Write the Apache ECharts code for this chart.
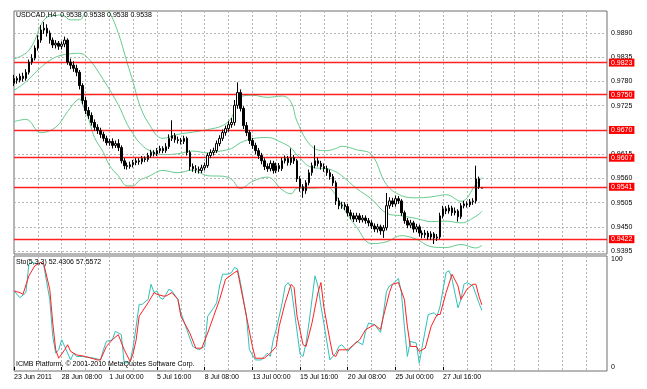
<!DOCTYPE html>
<html><head><meta charset="utf-8">
<script src="https://cdn.jsdelivr.net/npm/echarts@6/dist/echarts.min.js"></script>
<style>html,body{margin:0;padding:0;background:#fff}#c{width:647px;height:389px}</style>
</head><body><div id="c"></div><script>
const tickLabels = ['23 Jun 2011','28 Jun 08:00','1 Jul 00:00','5 Jul 16:00','8 Jul 08:00','13 Jul 00:00','15 Jul 16:00','20 Jul 08:00','25 Jul 00:00','27 Jul 16:00'];
const priceLevels = [0.9890,0.9835,0.9780,0.9725,0.9670,0.9615,0.9560,0.9505,0.9450,0.9395];
const redLevels = [0.9823,0.9750,0.9670,0.9607,0.9541,0.9422];
const stochLevels = [0,100];

const openP = [0.9776,0.9787,0.9783,0.9792,0.9787,0.9801,0.9824,0.9833,0.9856,0.9874,
0.9897,0.9901,0.9890,0.9874,0.9863,0.9867,0.9860,0.9865,0.9874,0.9824,
0.9817,0.9810,0.9801,0.9771,0.9737,0.9714,0.9703,0.9687,0.9676,0.9669,
0.9660,0.9651,0.9641,0.9644,0.9635,0.9639,0.9630,0.9600,0.9589,0.9587,
0.9591,0.9596,0.9600,0.9598,0.9605,0.9603,0.9612,0.9619,0.9616,0.9623,
0.9628,0.9623,0.9632,0.9651,0.9657,0.9648,0.9646,0.9644,0.9651,0.9619,
0.9587,0.9582,0.9580,0.9578,0.9584,0.9589,0.9612,0.9619,0.9623,0.9639,
0.9651,0.9664,0.9673,0.9682,0.9687,0.9726,0.9755,0.9719,0.9680,0.9664,
0.9646,0.9635,0.9623,0.9612,0.9600,0.9587,0.9582,0.9594,0.9578,0.9589,
0.9582,0.9600,0.9605,0.9596,0.9607,0.9600,0.9559,0.9541,0.9532,0.9550,
0.9573,0.9589,0.9600,0.9594,0.9587,0.9582,0.9573,0.9564,0.9550,0.9509,
0.9498,0.9500,0.9496,0.9482,0.9475,0.9468,0.9475,0.9466,0.9470,0.9464,
0.9459,0.9452,0.9445,0.9450,0.9441,0.9448,0.9498,0.9509,0.9502,0.9514,
0.9509,0.9482,0.9464,0.9454,0.9459,0.9445,0.9450,0.9436,0.9432,0.9436,
0.9427,0.9434,0.9425,0.9427,0.9475,0.9491,0.9486,0.9493,0.9482,0.9486,
0.9473,0.9498,0.9502,0.9500,0.9507,0.9509,0.9559,0.9538];
const closeP = [0.9787,0.9783,0.9792,0.9787,0.9801,0.9824,0.9833,0.9856,0.9874,0.9897,
0.9901,0.9890,0.9874,0.9863,0.9867,0.9860,0.9865,0.9874,0.9824,0.9817,
0.9810,0.9801,0.9771,0.9737,0.9714,0.9703,0.9687,0.9676,0.9669,0.9660,
0.9651,0.9641,0.9644,0.9635,0.9639,0.9630,0.9600,0.9589,0.9587,0.9591,
0.9596,0.9600,0.9598,0.9605,0.9603,0.9612,0.9619,0.9616,0.9623,0.9628,
0.9623,0.9632,0.9651,0.9657,0.9648,0.9646,0.9644,0.9651,0.9619,0.9587,
0.9582,0.9580,0.9578,0.9584,0.9589,0.9612,0.9619,0.9623,0.9639,0.9651,
0.9664,0.9673,0.9682,0.9687,0.9726,0.9755,0.9719,0.9680,0.9664,0.9646,
0.9635,0.9623,0.9612,0.9600,0.9587,0.9582,0.9594,0.9578,0.9589,0.9582,
0.9600,0.9605,0.9596,0.9607,0.9600,0.9559,0.9541,0.9532,0.9550,0.9573,
0.9589,0.9600,0.9594,0.9587,0.9582,0.9573,0.9564,0.9550,0.9509,0.9498,
0.9500,0.9496,0.9482,0.9475,0.9468,0.9475,0.9466,0.9470,0.9464,0.9459,
0.9452,0.9445,0.9450,0.9441,0.9448,0.9498,0.9509,0.9502,0.9514,0.9509,
0.9482,0.9464,0.9454,0.9459,0.9445,0.9450,0.9436,0.9432,0.9436,0.9427,
0.9434,0.9425,0.9427,0.9475,0.9491,0.9486,0.9493,0.9482,0.9486,0.9473,
0.9498,0.9502,0.9500,0.9507,0.9509,0.9559,0.9541,0.9538];
const highP = [0.9795,0.9792,0.9798,0.9800,0.9808,0.9830,0.9842,0.9862,0.9885,0.9908,
0.9915,0.9910,0.9896,0.9880,0.9874,0.9872,0.9871,0.9882,0.9878,0.9832,
0.9826,0.9818,0.9806,0.9776,0.9745,0.9722,0.9710,0.9694,0.9683,0.9675,
0.9666,0.9657,0.9650,0.9651,0.9646,0.9649,0.9635,0.9606,0.9596,0.9598,
0.9602,0.9606,0.9606,0.9611,0.9610,0.9618,0.9625,0.9624,0.9629,0.9634,
0.9633,0.9640,0.9660,0.9692,0.9663,0.9655,0.9652,0.9657,0.9655,0.9624,
0.9594,0.9590,0.9587,0.9591,0.9596,0.9618,0.9626,0.9630,0.9646,0.9658,
0.9671,0.9680,0.9690,0.9697,0.9738,0.9778,0.9762,0.9724,0.9688,0.9670,
0.9652,0.9641,0.9629,0.9618,0.9606,0.9594,0.9601,0.9600,0.9596,0.9595,
0.9607,0.9612,0.9611,0.9628,0.9613,0.9604,0.9565,0.9547,0.9556,0.9580,
0.9596,0.9635,0.9607,0.9600,0.9594,0.9589,0.9580,0.9570,0.9555,0.9516,
0.9507,0.9506,0.9502,0.9489,0.9482,0.9482,0.9481,0.9477,0.9476,0.9470,
0.9465,0.9458,0.9457,0.9455,0.9454,0.9527,0.9517,0.9516,0.9521,0.9520,
0.9513,0.9487,0.9470,0.9466,0.9464,0.9457,0.9455,0.9442,0.9443,0.9441,
0.9440,0.9438,0.9434,0.9482,0.9498,0.9497,0.9500,0.9498,0.9494,0.9490,
0.9504,0.9509,0.9508,0.9513,0.9515,0.9589,0.9564,0.9538];
const lowP = [0.9770,0.9775,0.9778,0.9780,0.9782,0.9796,0.9818,0.9828,0.9850,0.9868,
0.9888,0.9882,0.9866,0.9856,0.9855,0.9852,0.9853,0.9858,0.9818,0.9808,
0.9802,0.9792,0.9762,0.9728,0.9706,0.9695,0.9680,0.9668,0.9661,0.9652,
0.9644,0.9635,0.9634,0.9628,0.9629,0.9622,0.9594,0.9581,0.9580,0.9582,
0.9585,0.9590,0.9591,0.9592,0.9597,0.9598,0.9607,0.9610,0.9611,0.9617,
0.9617,0.9618,0.9627,0.9645,0.9641,0.9639,0.9637,0.9638,0.9612,0.9578,
0.9575,0.9572,0.9571,0.9572,0.9578,0.9584,0.9606,0.9612,0.9618,0.9633,
0.9645,0.9657,0.9666,0.9675,0.9680,0.9718,0.9712,0.9672,0.9656,0.9638,
0.9627,0.9615,0.9604,0.9592,0.9579,0.9575,0.9576,0.9571,0.9572,0.9575,
0.9577,0.9594,0.9589,0.9590,0.9593,0.9552,0.9530,0.9516,0.9525,0.9544,
0.9566,0.9583,0.9587,0.9580,0.9575,0.9566,0.9557,0.9543,0.9500,0.9490,
0.9491,0.9488,0.9474,0.9467,0.9461,0.9461,0.9459,0.9460,0.9457,0.9451,
0.9445,0.9438,0.9437,0.9432,0.9425,0.9442,0.9491,0.9495,0.9496,0.9502,
0.9475,0.9457,0.9447,0.9447,0.9437,0.9438,0.9428,0.9424,0.9425,0.9420,
0.9420,0.9411,0.9418,0.9422,0.9469,0.9479,0.9480,0.9475,0.9476,0.9462,
0.9468,0.9492,0.9494,0.9495,0.9500,0.9503,0.9536,0.9538];

const upperBand = [[0,0.9831],[3,0.9840],[5,0.9851],[7,0.9874],[9,0.9908],[11,0.9926],[13,0.9929],[16,0.9931],[19,0.9920],[22,0.9920],[24,0.9938],[26,0.9949],[28,0.9954],[30,0.9952],[32,0.9938],[35,0.9890],[38,0.9822],[40,0.9778],[42,0.9730],[45,0.9687],[50,0.9651],[55,0.9660],[60,0.9665],[65,0.9671],[70,0.9680],[73,0.9698],[75,0.9735],[76,0.9745],[80,0.9749],[85,0.9744],[90,0.9747],[93,0.9733],[95,0.9689],[100,0.9632],[105,0.9623],[108,0.9628],[110,0.9633],[115,0.9625],[120,0.9614],[125,0.9546],[130,0.9521],[135,0.9516],[140,0.9518],[145,0.9523],[150,0.9508],[155,0.9546],[157,0.9562]];
const middleBand = [[0,0.9760],[3,0.9774],[6,0.9792],[9,0.9812],[12,0.9828],[15,0.9838],[19,0.9843],[22,0.9844],[25,0.9832],[30,0.9784],[35,0.9727],[38,0.9683],[40,0.9661],[42,0.9642],[45,0.9625],[50,0.9614],[55,0.9616],[60,0.9622],[65,0.9618],[70,0.9623],[73,0.9628],[76,0.9641],[80,0.9650],[85,0.9653],[90,0.9641],[93,0.9629],[95,0.9613],[100,0.9585],[105,0.9582],[108,0.9575],[110,0.9566],[115,0.9537],[120,0.9513],[125,0.9481],[130,0.9475],[135,0.9469],[140,0.9462],[145,0.9463],[150,0.9459],[155,0.9474],[157,0.9485]];
const lowerBand = [[0,0.9689],[4,0.9694],[9,0.9664],[14,0.9676],[18,0.9712],[21,0.9737],[22,0.9740],[23,0.9728],[25,0.9696],[27,0.9653],[30,0.9619],[32,0.9590],[35,0.9566],[38,0.9543],[40,0.9543],[42,0.9555],[45,0.9564],[50,0.9578],[55,0.9573],[60,0.9579],[65,0.9566],[70,0.9565],[73,0.9558],[76,0.9537],[80,0.9553],[85,0.9563],[90,0.9534],[93,0.9525],[95,0.9538],[100,0.9538],[105,0.9540],[108,0.9522],[110,0.9498],[115,0.9449],[120,0.9412],[125,0.9416],[130,0.9430],[135,0.9422],[140,0.9405],[145,0.9403],[150,0.9410],[155,0.9402],[157,0.9408]];

const stochMain = [[0,70.4],[2,64.2],[4,68.9],[5,95.3],[6,96.9],[8,95.3],[9,96.9],[10,93.8],[12,62.6],[13,28.4],[14,12.8],[15,15.9],[16,25.2],[17,19.0],[19,6.5],[20,12.8],[21,9.7],[23,9.7],[27,8.1],[29,6.5],[30,15.9],[31,23.7],[33,25.2],[34,33.0],[36,29.9],[37,3.4],[39,5.0],[40,19.0],[41,37.7],[42,58.0],[43,58.0],[45,62.6],[46,76.6],[47,68.9],[48,70.4],[49,64.2],[50,62.6],[51,67.3],[52,72.0],[53,70.4],[55,62.6],[56,50.2],[58,34.6],[60,19.0],[62,15.9],[64,19.0],[65,47.0],[67,54.8],[68,59.5],[69,75.1],[70,86.0],[72,86.0],[73,87.5],[74,92.2],[75,90.7],[76,78.2],[78,47.0],[79,15.9],[81,6.5],[83,6.5],[84,9.7],[85,12.8],[86,9.7],[87,25.2],[88,34.6],[90,59.5],[91,75.1],[92,78.2],[93,73.5],[94,53.3],[96,12.0],[97,9.7],[98,22.1],[99,40.8],[100,62.6],[101,84.4],[102,75.1],[103,56.4],[104,40.0],[106,6.5],[108,12.8],[109,19.0],[110,20.6],[112,14.4],[114,20.6],[115,23.7],[117,20.6],[118,33.0],[119,40.8],[121,39.2],[123,32.0],[124,50.0],[125,70.0],[126,75.1],[127,76.6],[129,82.0],[130,68.9],[131,37.7],[132,9.7],[133,23.7],[135,22.1],[136,3.4],[137,19.0],[139,48.6],[141,50.2],[142,47.0],[143,56.4],[145,87.5],[146,89.1],[147,81.3],[149,54.8],[150,62.6],[151,76.6],[152,78.2],[154,75.1],[156,59.5],[157,52.43]];
const stochSignal = [[0,70.4],[2,68.9],[3,67.3],[5,84.4],[7,93.8],[9,96.9],[10,95.3],[12,72.0],[13,40.8],[14,15.9],[15,8.1],[17,15.9],[18,20.6],[19,14.4],[21,11.2],[24,9.7],[28,6.5],[29,6.5],[31,19.0],[33,25.2],[35,29.9],[37,15.9],[39,5.0],[40,12.8],[41,25.2],[42,47.0],[45,59.5],[47,68.9],[48,67.3],[50,65.7],[51,65.7],[53,68.9],[55,62.6],[56,47.0],[59,31.5],[61,17.4],[63,17.4],[65,31.5],[67,47.0],[69,62.6],[71,81.3],[74,87.5],[75,89.1],[76,75.1],[78,47.0],[80,19.0],[81,8.1],[84,8.1],[86,12.8],[88,19.0],[89,37.7],[91,59.5],[93,76.6],[94,73.5],[95,47.0],[97,20.6],[98,19.0],[100,40.8],[102,68.9],[103,78.2],[104,55.0],[106,25.0],[107,11.2],[108,9.7],[109,15.9],[112,15.9],[114,20.6],[116,25.2],[118,34.6],[121,39.2],[123,34.6],[124,47.0],[126,68.9],[127,76.6],[129,78.2],[131,62.6],[132,37.7],[133,19.0],[135,19.0],[136,14.4],[138,17.4],[140,37.7],[142,48.6],[143,48.6],[145,68.9],[147,85.9],[149,75.1],[150,62.6],[152,72.0],[154,76.6],[155,76.6],[156,65.7],[157,57.56]];

const N = 200;
const cats = Array.from({length: N}, (_, i) => String(i));
const candles = closeP.map((c, i) => [openP[i], c, lowP[i], highP[i]]);
const FONT = 'Liberation Sans';
const gridStyle = {color: '#b4b4b4', type: [2, 2], width: 1};
const redStyle = {color: '#ff2020', type: 'solid', width: 1.3, opacity: 1};
const vGrid = (i) => i % 8 === 0 && i > 0;

function xAx(gi, labels) {
  return {
    gridIndex: gi, type: 'category', data: cats, boundaryGap: false,
    axisLine: {show: false},
    axisTick: labels ? {show: true, interval: (i) => i % 16 === 0 && !!tickLabels[i / 16], length: 3, lineStyle: {color: '#000'}} : {show: false},
    axisLabel: labels ? {show: true, interval: (i) => i % 16 === 0, align: 'left', margin: 3, fontSize: 7, fontFamily: FONT, color: '#000',
      formatter: (v) => { const i = +v; return (i % 16 === 0 && tickLabels[i / 16]) ? tickLabels[i / 16] : ''; }} : {show: false},
    splitLine: {show: true, interval: vGrid, lineStyle: gridStyle}
  };
}
const txt = {fontSize: 7, fontWeight: 'normal', color: '#000', fontFamily: FONT};
const redLabel = {show: true, position: 'end', distance: 2, fontSize: 7, fontFamily: FONT, color: '#fff', backgroundColor: '#ff0000', padding: [1, 2, 0, 2],
  formatter: (p) => Number(p.value).toFixed(4)};

const option = {
  animation: false,
  backgroundColor: '#fff',
  title: [
    {text: 'USDCAD,H4  0.9538 0.9538 0.9538 0.9538', left: 16, top: 12, padding: 0, textStyle: txt},
    {text: 'Sto(5,3,3) 52.4306 57.5572', left: 16, top: 259, padding: 0, textStyle: txt},
    {text: 'ICMB Platform, © 2001-2010 MetaQuotes Software Corp.', left: 16, top: 361, padding: 0, textStyle: txt}
  ],
  grid: [
    {left: 14, top: 11, width: 593, height: 243, show: true, borderColor: '#6e6e6e', borderWidth: 1, backgroundColor: 'transparent'},
    {left: 14, top: 256, width: 593, height: 115, show: true, borderColor: '#6e6e6e', borderWidth: 1, backgroundColor: 'transparent'}
  ],
  xAxis: [xAx(0, false), xAx(1, true)],
  yAxis: [
    {gridIndex: 0, type: 'value', min: 0.93884, max: 0.99401, show: false},
    {gridIndex: 1, type: 'value', min: -3.74, max: 102.8, show: false}
  ],
  series: [
    {type: 'line', name: 'mid', xAxisIndex: 0, yAxisIndex: 0, data: middleBand, showSymbol: false, smooth: 0.4, z: 2,
      lineStyle: {color: '#66cc8e', width: 1}, silent: true,
      markLine: {silent: true, symbol: 'none', animation: false, precision: 5,
        lineStyle: gridStyle,
        label: {position: 'end', distance: 4, fontSize: 7, fontFamily: FONT, color: '#000', formatter: (p) => Number(p.value).toFixed(4)},
        data: priceLevels.map(v => ({yAxis: v}))}},
    {type: 'line', name: 'up', xAxisIndex: 0, yAxisIndex: 0, data: upperBand, showSymbol: false, smooth: 0.4, z: 3,
      lineStyle: {color: '#66cc8e', width: 1}, silent: true},
    {type: 'line', name: 'low', xAxisIndex: 0, yAxisIndex: 0, data: lowerBand, showSymbol: false, smooth: 0.4, z: 2,
      lineStyle: {color: '#66cc8e', width: 1}, silent: true},
    {type: 'candlestick', xAxisIndex: 0, yAxisIndex: 0, data: candles, barWidth: 2, z: 5,
      itemStyle: {color: '#ffffff', color0: '#000000', borderColor: '#000000', borderColor0: '#000000', borderWidth: 1}},
    {type: 'line', name: 'levels', xAxisIndex: 0, yAxisIndex: 0, data: closeP.map((c, i) => [i, c]), showSymbol: false, z: 4,
      lineStyle: {opacity: 0, width: 0}, silent: true,
      markLine: {silent: true, symbol: 'none', animation: false, precision: 5,
        lineStyle: redStyle, label: redLabel,
        emphasis: {disabled: true}, blur: {lineStyle: redStyle},
        data: redLevels.map(v => ({yAxis: v, lineStyle: redStyle, label: redLabel}))}},
    {type: 'line', name: 'main', xAxisIndex: 1, yAxisIndex: 1, data: stochMain, showSymbol: false, z: 3,
      lineStyle: {color: '#30c0b8', width: 1}, silent: true,
      markLine: {silent: true, symbol: 'none', animation: false, precision: 0,
        lineStyle: {color: 'rgba(0,0,0,0)', width: 1},
        label: {position: 'end', distance: 4, fontSize: 7, fontFamily: FONT, color: '#000', formatter: (p) => String(Math.round(p.value))},
        data: stochLevels.map(v => ({yAxis: v}))}},
    {type: 'line', name: 'signal', xAxisIndex: 1, yAxisIndex: 1, data: stochSignal, showSymbol: false, z: 4,
      lineStyle: {color: '#ff2020', width: 1}, silent: true}
  ]
};
const chart = echarts.init(document.getElementById('c'), null, {renderer: 'canvas'});
chart.setOption(option);
</script></body></html>
